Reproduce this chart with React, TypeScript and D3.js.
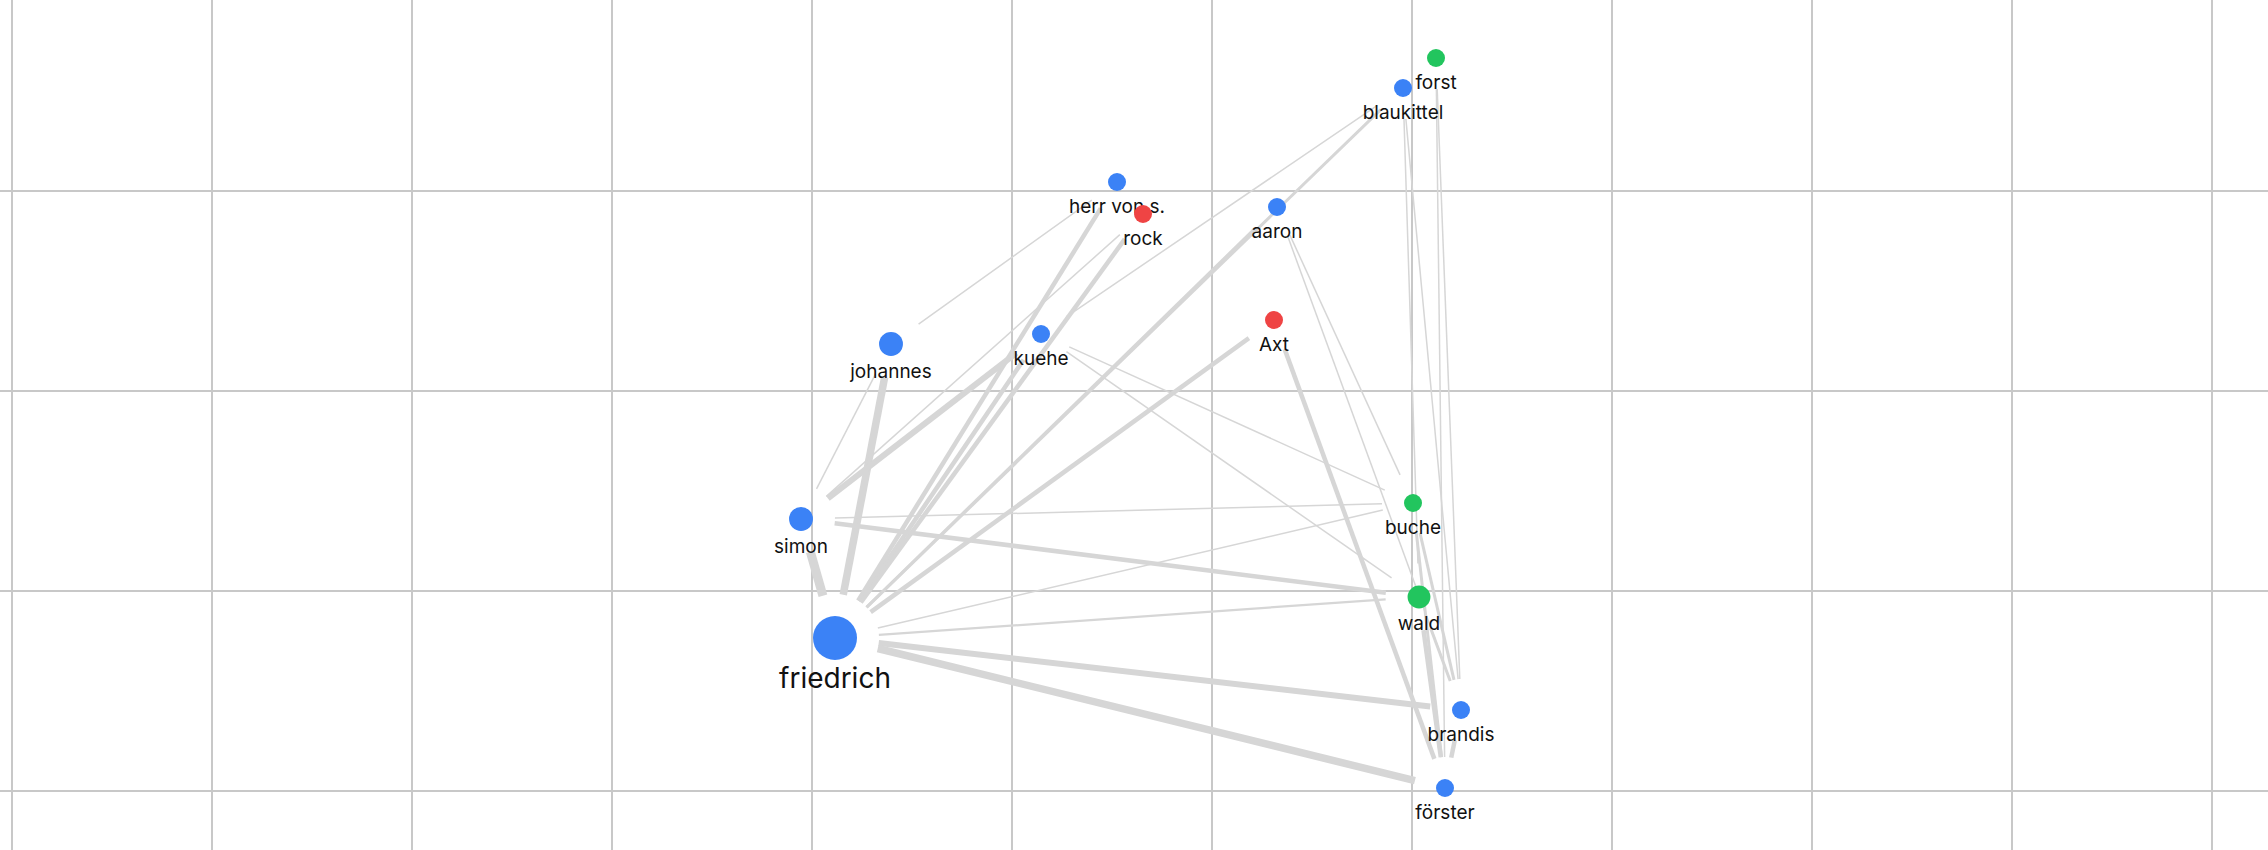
import React, { useEffect, useRef } from 'react';
import * as d3 from 'd3';

// node data: name, group, x, y, size
const nodeNames = ['forst', 'blaukittel', 'herr von s.', 'rock', 'aaron', 'Axt', 'johannes', 'kuehe', 'simon', 'friedrich', 'buche', 'wald', 'brandis', 'förster'];
const nodeGroups = ['place', 'person', 'person', 'thing', 'person', 'thing', 'person', 'person', 'person', 'person', 'place', 'place', 'person', 'person'];
const nodeX = [1436, 1403, 1117, 1143, 1277, 1274, 891, 1041, 801, 835, 1413, 1419, 1461, 1445];
const nodeY = [58, 88, 182, 214, 207, 320, 344, 334, 519, 638, 503, 597, 710, 788];
const nodeSize = [1, 1, 1, 1, 1, 1, 2, 1, 2, 8, 1, 1.8, 1, 1];

// links: source, target, weight
const linkSource = ['friedrich', 'friedrich', 'friedrich', 'friedrich', 'friedrich', 'friedrich', 'friedrich', 'friedrich', 'friedrich', 'friedrich', 'friedrich', 'friedrich',
  'simon', 'simon', 'simon', 'simon', 'simon', 'johannes', 'kuehe', 'kuehe', 'kuehe', 'aaron', 'aaron', 'Axt',
  'blaukittel', 'blaukittel', 'forst', 'forst', 'buche', 'buche', 'wald', 'wald', 'brandis'];
const linkTarget = ['johannes', 'simon', 'kuehe', 'herr von s.', 'rock', 'blaukittel', 'aaron', 'Axt', 'buche', 'wald', 'brandis', 'förster',
  'johannes', 'kuehe', 'rock', 'buche', 'wald', 'herr von s.', 'blaukittel', 'buche', 'wald', 'buche', 'brandis', 'förster',
  'wald', 'brandis', 'brandis', 'förster', 'brandis', 'förster', 'brandis', 'förster', 'förster'];
const linkWeight = [5, 6, 3, 3, 3, 2, 2, 3, 1, 1.5, 4, 5,
  1, 4, 1, 1, 3, 1, 1, 1, 1, 1, 1, 3,
  1, 1, 1, 1, 2, 2, 2, 3, 3];

const groupColor: Record<string, string> = { person: '#3b82f6', place: '#22c55e', thing: '#ef4444' };

const W = 2268;
const H = 850;

const App: React.FC = () => {
  const svgRef = useRef<SVGSVGElement | null>(null);

  useEffect(() => {
    document.body.style.margin = '0';
    if (!svgRef.current) return;
    const svg = d3.select(svgRef.current);
    svg.selectAll('*').remove();

    // background grid
    const grid = svg.append('g');
    grid.selectAll('line.v')
      .data(d3.range(12, W, 200))
      .enter().append('line')
      .attr('x1', (d) => d).attr('x2', (d) => d)
      .attr('y1', 0).attr('y2', H)
      .attr('stroke', '#c8c8c8').attr('stroke-width', 2);
    grid.selectAll('line.h')
      .data(d3.range(191, H, 200))
      .enter().append('line')
      .attr('x1', 0).attr('x2', W)
      .attr('y1', (d) => d).attr('y2', (d) => d)
      .attr('stroke', '#c8c8c8').attr('stroke-width', 2);

    const r = d3.scaleSqrt().domain([1, 8]).range([9, 22]);
    const nodes = nodeNames.map((name, i) => ({ name, group: nodeGroups[i], x: nodeX[i], y: nodeY[i], size: nodeSize[i] }));
    const byName = new Map(nodes.map((n) => [n.name, n]));
    const width = d3.scaleLinear().domain([1, 6]).range([1.5, 9]);

    const trim = (n: { size: number }) => r(n.size) + 22;

    svg.append('g')
      .selectAll('line')
      .data(linkSource.map((s, i) => ({ s: byName.get(s)!, t: byName.get(linkTarget[i])!, w: linkWeight[i] })))
      .enter().append('line')
      .each(function (d) {
        const dx = d.t.x - d.s.x;
        const dy = d.t.y - d.s.y;
        const len = Math.hypot(dx, dy);
        const a = trim(d.s) / len;
        const b = trim(d.t) / len;
        d3.select(this)
          .attr('x1', d.s.x + dx * a).attr('y1', d.s.y + dy * a)
          .attr('x2', d.t.x - dx * b).attr('y2', d.t.y - dy * b);
      })
      .attr('stroke', '#d6d6d6')
      .attr('stroke-width', (d) => width(d.w));

    const ng = svg.append('g')
      .selectAll('g')
      .data(nodes)
      .enter().append('g')
      .attr('transform', (d) => `translate(${d.x},${d.y})`);

    ng.append('circle')
      .attr('r', (d) => r(d.size))
      .attr('fill', (d) => groupColor[d.group]);

    ng.append('text')
      .attr('y', (d) => r(d.size) + (d.size > 4 ? 28 : 22))
      .attr('text-anchor', 'middle')
      .attr('font-family', 'Inter, "Liberation Sans", sans-serif')
      .attr('font-size', (d) => (d.size > 4 ? 28 : 19))
      .attr('fill', '#111')
      .text((d) => d.name);
  }, []);

  return <svg ref={svgRef} width={W} height={H} style={{ display: 'block', background: '#fff' }} />;
};

export default App;
